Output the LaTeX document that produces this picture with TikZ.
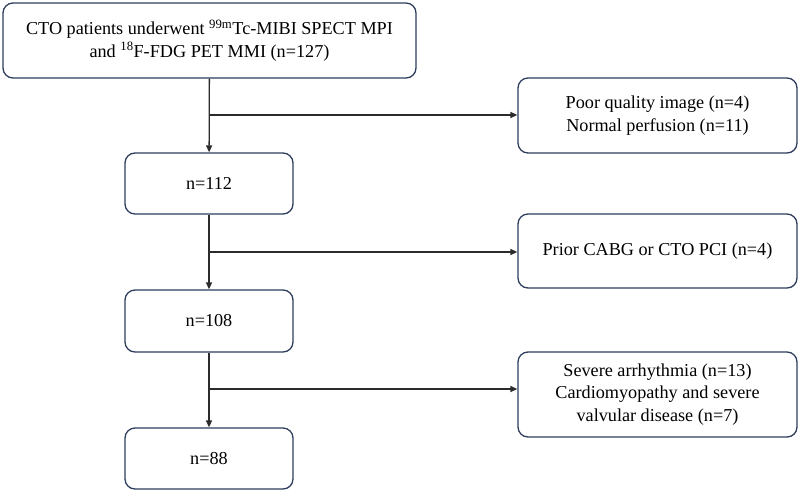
\documentclass[tikz,border=0pt]{standalone}
\usepackage{fontspec}
\setmainfont{Liberation Serif}
\definecolor{boxEdge}{HTML}{2E3D5C}
\definecolor{flowLine}{HTML}{2B2B2B}
\usetikzlibrary{arrows.meta}
\tikzset{
  flowbox/.style={draw=boxEdge,line width=1.3pt,rounded corners=10pt,
    align=center,inner sep=0pt,font=\fontsize{18.2}{22.5}\selectfont},
  flowarrow/.style={draw=flowLine,line width=1.3pt,
    -{Triangle[length=7pt,width=6pt]}},
}

\begin{document}
\begin{tikzpicture}[x=1pt,y=-1pt]
  \useasboundingbox (0,0) rectangle (800,493);
  % main column
  \node[flowbox,minimum width=413pt,minimum height=75pt] (start) at (209.5,40.5)
    {CTO patients underwent \textsuperscript{99m}Tc-MIBI SPECT MPI\\
     and \textsuperscript{18}F-FDG PET MMI (n=127)};
  \node[flowbox,minimum width=168pt,minimum height=61pt] (s112) at (209,183.5) {n=112};
  \node[flowbox,minimum width=168pt,minimum height=62pt] (s108) at (209,321) {n=108};
  \node[flowbox,minimum width=168pt,minimum height=61pt] (s88) at (209,458.5) {n=88};
  % exclusions
  \node[flowbox,minimum width=279pt,minimum height=75pt] (ex1) at (657.5,115.5)
    {Poor quality image (n=4)\\ Normal perfusion (n=11)};
  \node[flowbox,minimum width=279pt,minimum height=74pt] (ex2) at (657.5,251)
    {Prior CABG or CTO PCI (n=4)};
  \node[flowbox,minimum width=279pt,minimum height=85pt] (ex3) at (657.5,394.5)
    {Severe arrhythmia (n=13)\\ Cardiomyopathy and severe\\ valvular disease (n=7)};
  % branch points
  \coordinate (b1) at (209,115);
  \coordinate (b2) at (209,252);
  \coordinate (b3) at (209,389);
  \draw[flowarrow] (start) -- (s112);
  \draw[flowarrow] (s112) -- (s108);
  \draw[flowarrow] (s108) -- (s88);
  \draw[flowarrow] (b1) -- (b1 -| ex1.west);
  \draw[flowarrow] (b2) -- (b2 -| ex2.west);
  \draw[flowarrow] (b3) -- (b3 -| ex3.west);
\end{tikzpicture}
\end{document}
